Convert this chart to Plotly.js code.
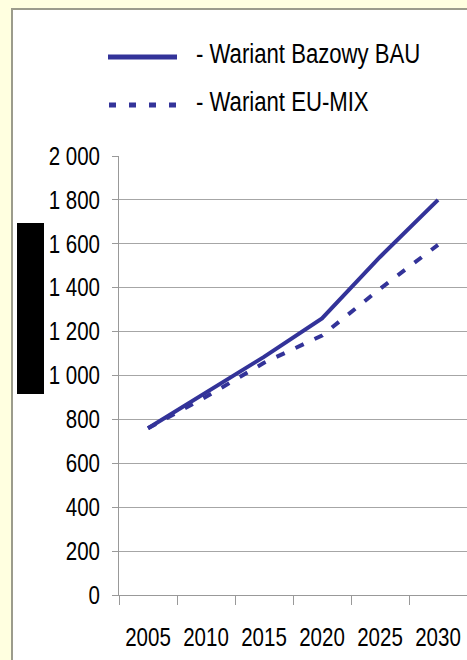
<!DOCTYPE html>
<html>
<head>
<meta charset="utf-8">
<script src="https://cdn.plot.ly/plotly-3.0.1.min.js"></script>
<style>
  html, body { margin: 0; padding: 0; background: #FFFFE0; }
  #chart { width: 467px; height: 660px; }
</style>
</head>
<body>
<div id="chart"></div>
<script>
// ---- data ----
var years = ["2005", "2010", "2015", "2020", "2025", "2030"];
var bauValues = [760, 925, 1085, 1260, 1540, 1800];
var euMixValues = [760, 903, 1058, 1182, 1395, 1595];
var seriesNames = ["- Wariant Bazowy BAU", "- Wariant EU-MIX"];
var yTickValues = [0, 200, 400, 600, 800, 1000, 1200, 1400, 1600, 1800, 2000];
var yTickLabels = ["0", "200", "400", "600", "800", "1 000", "1 200", "1 400", "1 600", "1 800", "2 000"];

// ---- layout constants ----
var W = 467, H = 660;
var ML = 119, MR = 0, MT = 156, MB = 65;
var PW = W - ML - MR, PH = H - MT - MB;
function px(x) { return (x - ML) / PW; }
function py(y) { return (H - MB - y) / PH; }

var lineColor = "#333399";
var fontFam = "'Liberation Sans', Arial, sans-serif";
var narrow = 0.82;

var traces = [
  {
    type: "scatter", mode: "lines", x: years, y: bauValues, name: seriesNames[0],
    line: { color: lineColor, width: 4 }, showlegend: false
  },
  {
    type: "scatter", mode: "lines", x: years, y: euMixValues, name: seriesNames[1],
    line: { color: lineColor, width: 4, dash: "9px,12px" }, showlegend: false
  }
];

var shapes = [
  { type: "rect", xref: "paper", yref: "paper", layer: "below",
    x0: px(12), x1: px(W + 20), y0: py(9), y1: py(H + 20),
    fillcolor: "#FFFFFF", line: { color: "#9C9C8C", width: 2 } },
  { type: "line", xref: "paper", yref: "paper",
    x0: px(108), x1: px(177), y0: py(57), y1: py(57),
    line: { color: lineColor, width: 5 } },
  { type: "line", xref: "paper", yref: "paper",
    x0: px(109), x1: px(177), y0: py(105), y1: py(105),
    line: { color: lineColor, width: 5, dash: "7px,13px" } },
  { type: "rect", xref: "paper", yref: "paper",
    x0: px(17), x1: px(44), y0: py(223), y1: py(394),
    fillcolor: "#000000", line: { width: 0 } }
];

var annotations = [
  { xref: "paper", yref: "paper", x: px(194), y: py(54), xanchor: "left", yanchor: "middle",
    text: seriesNames[0], showarrow: false, font: { family: fontFam, size: 27, color: "#000" } },
  { xref: "paper", yref: "paper", x: px(194), y: py(102), xanchor: "left", yanchor: "middle",
    text: seriesNames[1], showarrow: false, font: { family: fontFam, size: 27, color: "#000" } }
];

var layout = {
  width: W, height: H,
  margin: { l: ML, r: MR, t: MT, b: MB, pad: 0 },
  paper_bgcolor: "#FFFFE0",
  plot_bgcolor: "rgba(0,0,0,0)",
  showlegend: false,
  font: { family: fontFam, size: 25, color: "#000" },
  xaxis: {
    type: "category",
    range: [-0.5, 5.5],
    tickson: "boundaries",
    tickangle: 0,
    ticks: "outside", ticklen: 9, tickcolor: "#999999", tickwidth: 1,
    showgrid: false, zeroline: false,
    showline: true, linecolor: "#999999", linewidth: 1,
    ticklabelstandoff: 20,
    tickfont: { family: fontFam, size: 25, color: "#000" },
    fixedrange: true
  },
  yaxis: {
    range: [0, 2000],
    tickmode: "array", tickvals: yTickValues, ticktext: yTickLabels,
    ticks: "outside", ticklen: 6, tickcolor: "#999999", tickwidth: 1,
    showgrid: true, gridcolor: "#A6A6A6", gridwidth: 1,
    zeroline: false,
    showline: true, linecolor: "#999999", linewidth: 1,
    ticklabelstandoff: 7,
    tickfont: { family: fontFam, size: 25, color: "#000" },
    fixedrange: true
  },
  shapes: shapes,
  annotations: annotations
};

function condense(gd) {
  var texts = gd.querySelectorAll(".xtick text, .ytick text, .annotation-text");
  texts.forEach(function (t) {
    var bb = t.getBBox();
    var len = t.getComputedTextLength();
    if (t.classList.contains("annotation-text")) {
      t.setAttribute("text-anchor", "start");
      t.setAttribute("x", bb.x);
    }
    t.setAttribute("lengthAdjust", "spacingAndGlyphs");
    t.setAttribute("textLength", (len * narrow).toFixed(2));
  });
}

Plotly.newPlot("chart", traces, layout, { displayModeBar: false, staticPlot: true })
  .then(function (gd) { condense(gd); });
</script>
</body>
</html>
